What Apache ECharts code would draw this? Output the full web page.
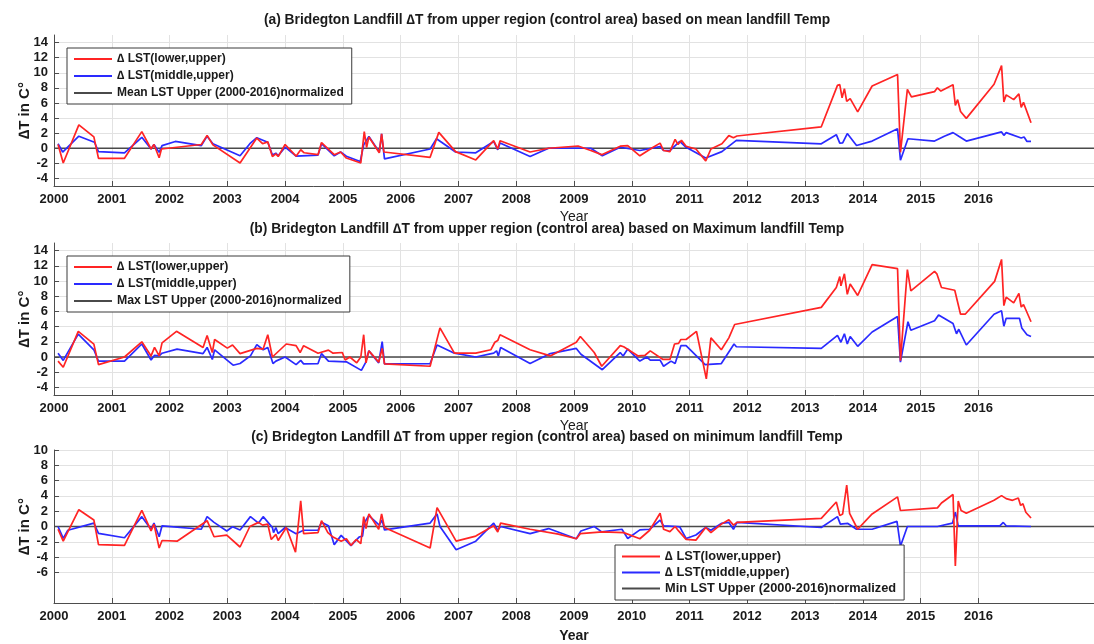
<!DOCTYPE html>
<html><head><meta charset="utf-8">
<script src="https://cdn.jsdelivr.net/npm/echarts@6/dist/echarts.min.js"></script>
<style>html,body{margin:0;padding:0;background:#fff}#c{width:1094px;height:644px}</style>
</head><body><div id="c"></div>
<script>
// ---- tick values ----
const yearTicks = [2000,2001,2002,2003,2004,2005,2006,2007,2008,2009,2010,2011,2012,2013,2014,2015,2016];
const yTicksAB = [-4,-2,0,2,4,6,8,10,12,14];
const yTicksC = [-6,-4,-2,0,2,4,6,8,10];

// ---- titles / labels ----
const titleA = '(a) Bridegton Landfill \u2206T from upper region (control area) based on mean landfill Temp';
const titleB = '(b) Bridegton Landfill \u2206T from upper region (control area) based on Maximum landfill Temp';
const titleC = '(c) Bridegton Landfill \u2206T from upper region (control area) based on minimum landfill Temp';
const nameLower = '\u2206 LST(lower,upper)';
const nameMiddle = '\u2206 LST(middle,upper)';
const nameMean = 'Mean LST Upper (2000-2016)normalized';
const nameMax = 'Max LST Upper (2000-2016)normalized';
const nameMin = 'Min LST Upper (2000-2016)normalized';

// ---- data: [year, deltaT] ----
const meanLower = [[2000.07,0.5],[2000.16,-1.96],[2000.43,3.1],[2000.69,1.5],[2000.77,-1.33],[2001.22,-1.33],[2001.52,2.2],[2001.68,-0.1],[2001.73,0.5],[2001.82,-1.25],[2001.86,-0.1],[2002.55,0.5],[2002.65,1.7],[2002.75,0.45],[2003.22,-1.95],[2003.51,1.35],[2003.61,0.6],[2003.70,0.85],[2003.78,-1.1],[2003.84,-0.75],[2003.88,-1.1],[2004.00,0.5],[2004.19,-1.05],[2004.27,-0.2],[2004.33,-0.6],[2004.57,-0.85],[2004.63,0.75],[2004.85,-0.85],[2004.96,-0.5],[2005.06,-1.3],[2005.31,-1.95],[2005.37,2.2],[2005.41,0.1],[2005.45,1.5],[2005.63,-0.6],[2005.67,1.9],[2005.71,-0.5],[2006.51,-1.2],[2006.66,2.1],[2006.95,-0.45],[2007.30,-1.55],[2007.61,1.0],[2007.68,-0.1],[2007.72,1.0],[2008.24,-0.5],[2008.56,0],[2009.07,0.3],[2009.29,-0.3],[2009.48,-0.85],[2009.80,0.27],[2009.93,0.36],[2010.14,-1.0],[2010.37,0.13],[2010.49,0.68],[2010.55,-0.3],[2010.66,-0.45],[2010.75,1.17],[2010.80,0.5],[2010.86,1.04],[2010.94,0.27],[2011.11,-0.1],[2011.28,-1.67],[2011.37,-0.1],[2011.56,0.59],[2011.68,1.67],[2011.76,1.4],[2011.82,1.62],[2013.28,2.84],[2013.56,8.33],[2013.60,8.42],[2013.64,6.67],[2013.68,7.9],[2013.72,6.2],[2013.78,6.58],[2013.91,4.82],[2014.16,8.24],[2014.60,9.77],[2014.65,-0.54],[2014.77,7.8],[2014.84,6.8],[2015.24,7.5],[2015.29,8.0],[2015.35,7.57],[2015.56,8.42],[2015.60,5.68],[2015.64,6.44],[2015.69,4.86],[2015.79,3.96],[2016.27,8.47],[2016.40,10.95],[2016.44,6.13],[2016.48,7.07],[2016.61,6.44],[2016.70,7.2],[2016.74,5.4],[2016.78,6.08],[2016.91,3.38]];
const meanMiddle = [[2000.07,0.6],[2000.15,-0.5],[2000.43,1.6],[2000.70,0.8],[2000.77,-0.45],[2001.22,-0.6],[2001.52,1.45],[2001.68,-0.1],[2001.73,0.5],[2001.82,-0.55],[2001.87,0.35],[2002.10,0.9],[2002.55,0.35],[2002.65,1.6],[2002.75,0.6],[2003.22,-1.0],[2003.39,0.6],[2003.51,1.4],[2003.70,0.8],[2003.78,-0.9],[2003.84,-0.65],[2003.88,-1.0],[2004.00,0.15],[2004.19,-1.05],[2004.57,-0.9],[2004.63,0.6],[2004.85,-1.0],[2004.96,-0.5],[2005.06,-1.05],[2005.30,-1.75],[2005.36,0.45],[2005.45,1.55],[2005.63,-0.5],[2005.67,1.9],[2005.72,-1.4],[2006.51,-0.1],[2006.62,1.25],[2006.95,-0.5],[2007.30,-0.6],[2007.61,0.9],[2007.68,-0.2],[2007.72,0.7],[2008.24,-1.1],[2008.56,0],[2009.29,0],[2009.49,-1.0],[2009.80,0.13],[2010.14,-0.3],[2010.49,0.22],[2010.55,-0.3],[2010.66,-0.3],[2010.83,0.9],[2010.94,0.13],[2011.28,-1.3],[2011.56,-0.45],[2011.81,1.04],[2013.28,0.59],[2013.54,1.8],[2013.60,0.68],[2013.65,0.72],[2013.73,1.94],[2013.89,0.36],[2014.16,0.95],[2014.60,2.57],[2014.65,-1.58],[2014.78,1.26],[2015.24,0.95],[2015.41,1.58],[2015.56,2.07],[2015.66,1.58],[2015.79,0.95],[2016.40,2.16],[2016.44,1.71],[2016.48,2.07],[2016.74,1.35],[2016.79,1.5],[2016.84,0.9],[2016.91,0.9]];
const maxLower = [[2000.07,-0.54],[2000.16,-1.35],[2000.42,3.38],[2000.69,1.7],[2000.77,-1.0],[2001.22,0],[2001.52,2.0],[2001.68,0.14],[2001.74,1.26],[2001.82,0.14],[2001.87,1.85],[2002.12,3.38],[2002.58,1.26],[2002.65,2.84],[2002.74,0.59],[2002.78,2.3],[2003.00,1.17],[2003.09,1.58],[2003.22,0.45],[2003.51,1.13],[2003.62,1.04],[2003.70,2.93],[2003.78,0],[2004.02,1.71],[2004.19,1.49],[2004.26,0.59],[2004.32,1.49],[2004.57,0.5],[2004.75,0.9],[2004.83,0.5],[2004.99,0.59],[2005.04,-0.4],[2005.12,0],[2005.24,-0.77],[2005.31,0],[2005.36,2.93],[2005.40,-0.77],[2005.45,0.81],[2005.62,-0.68],[2005.68,1.13],[2005.72,-0.9],[2006.51,-1.22],[2006.68,3.83],[2006.93,0.5],[2007.30,0.5],[2007.56,0.95],[2007.63,1.94],[2007.68,2.16],[2007.72,2.93],[2008.24,0.95],[2008.59,0.14],[2009.04,1.94],[2009.11,2.7],[2009.35,0.59],[2009.48,-1.22],[2009.80,1.49],[2009.86,1.35],[2010.11,0.14],[2010.23,0.23],[2010.32,0.81],[2010.54,-0.32],[2010.66,-0.32],[2010.74,1.71],[2010.81,1.8],[2010.85,2.3],[2010.94,2.3],[2011.12,3.38],[2011.29,-2.88],[2011.37,2.52],[2011.55,0.95],[2011.68,2.52],[2011.78,4.28],[2013.28,6.53],[2013.54,9.14],[2013.60,10.59],[2013.62,9.37],[2013.68,10.95],[2013.73,8.24],[2013.78,9.6],[2013.91,8.1],[2014.16,12.16],[2014.60,11.62],[2014.65,-0.5],[2014.77,11.5],[2014.83,8.7],[2015.24,11.26],[2015.28,10.95],[2015.36,9.14],[2015.59,8.78],[2015.69,5.63],[2015.77,5.63],[2016.28,9.95],[2016.40,12.84],[2016.44,6.76],[2016.48,7.88],[2016.61,7.12],[2016.70,8.38],[2016.74,6.58],[2016.78,6.89],[2016.82,6.22],[2016.91,4.64]];
const maxMiddle = [[2000.07,0.5],[2000.16,-0.45],[2000.42,3.0],[2000.69,0.95],[2000.77,-0.54],[2001.22,-0.54],[2001.52,1.71],[2001.68,-0.4],[2001.74,0.22],[2001.82,0.14],[2001.87,0.5],[2002.13,1.04],[2002.58,0.45],[2002.65,1.26],[2002.74,-0.32],[2002.78,0.95],[2003.10,-1.08],[2003.22,-0.86],[2003.40,0.14],[2003.51,1.62],[2003.62,0.95],[2003.70,1.26],[2003.79,-0.86],[2003.84,-0.54],[2004.00,0],[2004.19,-1.0],[2004.27,-0.45],[2004.32,-0.9],[2004.57,-0.86],[2004.63,0.45],[2004.75,-0.54],[2005.06,-0.63],[2005.32,-1.76],[2005.39,-0.77],[2005.45,0.81],[2005.62,-0.77],[2005.68,2.03],[2005.72,-0.9],[2006.51,-0.86],[2006.63,1.58],[2006.93,0.5],[2007.30,0],[2007.61,0.5],[2007.66,0.81],[2007.69,0.14],[2007.73,1.26],[2008.24,-0.86],[2008.59,0.45],[2009.04,1.13],[2009.12,0.36],[2009.49,-1.67],[2009.80,0.59],[2009.85,0.14],[2009.93,1.04],[2010.14,-0.54],[2010.26,0],[2010.32,-0.4],[2010.49,-0.4],[2010.55,-1.22],[2010.68,-0.54],[2010.75,-0.86],[2010.85,1.49],[2010.94,1.49],[2011.27,-1.0],[2011.55,-0.86],[2011.77,1.71],[2011.81,1.35],[2013.28,1.13],[2013.56,2.84],[2013.62,1.94],[2013.68,3.06],[2013.73,1.71],[2013.78,2.7],[2013.91,1.4],[2014.16,3.29],[2014.60,5.32],[2014.65,-0.68],[2014.78,4.64],[2014.83,3.51],[2015.24,4.77],[2015.31,5.54],[2015.56,4.41],[2015.62,3.06],[2015.66,3.65],[2015.79,1.58],[2016.27,5.63],[2016.40,6.08],[2016.44,4.05],[2016.48,5.09],[2016.71,5.09],[2016.75,3.83],[2016.84,2.93],[2016.91,2.7]];
const minLower = [[2000.07,-0.36],[2000.16,-1.92],[2000.43,2.19],[2000.69,0.85],[2000.77,-2.37],[2001.22,-2.46],[2001.52,2.1],[2001.68,-0.58],[2001.73,0.31],[2001.82,-2.81],[2001.87,-1.83],[2002.13,-1.92],[2002.65,0.76],[2002.77,-1.34],[2002.99,-1.12],[2003.22,-2.68],[2003.39,0],[2003.54,0.54],[2003.61,0.18],[2003.70,0.31],[2003.76,-1.7],[2003.79,-1.83],[2003.84,-1.03],[2003.88,-1.83],[2004.02,-0.13],[2004.18,-3.35],[2004.27,3.35],[2004.32,-0.94],[2004.57,-0.8],[2004.63,0.76],[2004.74,-0.8],[2004.83,-1.38],[2004.97,-1.92],[2005.06,-1.6],[2005.14,-2.46],[2005.23,-1.7],[2005.31,-2.23],[2005.36,1.29],[2005.40,-0.27],[2005.45,1.65],[2005.62,-0.36],[2005.67,1.65],[2005.72,-0.13],[2006.51,-2.81],[2006.63,2.46],[2006.96,-1.92],[2007.30,-1.25],[2007.61,0.09],[2007.68,-0.71],[2007.73,0.45],[2008.24,-0.36],[2008.73,-1.0],[2009.04,-1.6],[2009.11,-0.93],[2009.49,-0.71],[2009.86,-0.8],[2010.14,-1.6],[2010.31,-0.49],[2010.49,1.73],[2010.55,-0.36],[2010.66,-0.67],[2010.75,0],[2010.81,-0.58],[2010.94,-1.69],[2011.11,-1.78],[2011.28,-0.13],[2011.37,-0.8],[2011.55,0.31],[2011.68,0.89],[2011.76,0.18],[2011.82,0.53],[2013.28,1.07],[2013.54,3.2],[2013.60,1.42],[2013.65,1.64],[2013.72,5.42],[2013.77,1.73],[2013.91,-0.36],[2014.16,1.64],[2014.60,3.87],[2014.65,2.09],[2015.29,2.44],[2015.36,3.07],[2015.56,4.18],[2015.60,-5.16],[2015.65,3.33],[2015.70,2.09],[2015.79,1.73],[2016.27,3.42],[2016.40,4.04],[2016.48,3.64],[2016.59,3.42],[2016.69,3.73],[2016.73,2.76],[2016.77,2.98],[2016.82,1.87],[2016.91,1.11]];
const minMiddle = [[2000.07,0],[2000.16,-1.56],[2000.24,-0.49],[2000.69,0.45],[2000.77,-0.89],[2001.22,-1.47],[2001.52,1.29],[2001.68,-0.36],[2001.73,0.45],[2001.82,-1.34],[2001.87,0.09],[2002.55,-0.36],[2002.65,1.29],[2002.77,0.54],[2002.99,-0.58],[2003.09,-0.04],[2003.22,-0.45],[2003.40,1.29],[2003.54,0.45],[2003.62,1.29],[2003.78,-0.13],[2003.80,-0.8],[2003.84,-0.13],[2003.88,-0.94],[2004.00,-0.13],[2004.19,-0.94],[2004.32,-0.49],[2004.57,-0.49],[2004.63,0.54],[2004.75,0.09],[2004.85,-2.37],[2004.97,-1.16],[2005.14,-2.5],[2005.28,-1.38],[2005.34,-1.25],[2005.37,0.45],[2005.45,1.43],[2005.63,0.18],[2005.68,0.85],[2005.72,-0.45],[2006.51,0.45],[2006.63,1.65],[2006.68,0],[2006.96,-3.04],[2007.30,-1.92],[2007.61,0.45],[2007.68,-0.49],[2007.73,0],[2008.24,-0.94],[2008.56,-0.27],[2009.04,-1.6],[2009.12,-0.58],[2009.35,0],[2009.48,-0.71],[2009.83,-0.36],[2009.93,-1.56],[2010.14,-0.44],[2010.31,-0.36],[2010.49,0.84],[2010.55,0.09],[2010.77,0],[2010.83,-0.04],[2010.94,-1.56],[2011.11,-1.11],[2011.28,-0.13],[2011.37,-0.49],[2011.55,0.4],[2011.68,0.53],[2011.76,-0.36],[2011.82,0.53],[2013.28,-0.13],[2013.56,1.29],[2013.61,0.31],[2013.74,0.4],[2013.89,-0.36],[2014.16,-0.36],[2014.59,0.67],[2014.65,-2.58],[2014.77,0],[2015.29,0],[2015.55,0.44],[2015.60,1.87],[2015.65,0.09],[2016.37,0.09],[2016.43,0.53],[2016.48,0.09],[2016.91,0]];
const baseline = [[2000,0],[2018,0]];

const FONT = '"Liberation Sans", Arial, sans-serif';
const RED = '#ff2424', BLUE = '#2a2aff', BASE = '#4a4a4a';
const AXIS = '#4d4d4d', GRIDC = '#e2e2e2';

const grids = [
  {left: 54, right: 0, top: 35, height: 151},
  {left: 54, right: 0, top: 243, height: 152},
  {left: 54, right: 0, top: 450, height: 154}
];

function xAx(i, boldName, gap) {
  return {
    type: 'value', gridIndex: i, min: 2000, max: 2018,
    axisLine: {show: true, onZero: false, lineStyle: {color: AXIS, width: 1}},
    axisTick: {show: true, inside: true, length: 5, customValues: yearTicks, lineStyle: {color: AXIS}},
    axisLabel: {customValues: yearTicks, formatter: v => String(v), fontFamily: FONT, fontWeight: 'bold', fontSize: 13, color: '#1a1a1a', margin: 7},
    splitLine: {show: false},
    name: 'Year', nameLocation: 'middle', nameGap: gap, nameMoveOverlap: false,
    nameTextStyle: {fontFamily: FONT, fontSize: 14, fontWeight: boldName ? 'bold' : 'normal', color: '#1a1a1a'}
  };
}
function yAx(i, mn, mx, ticks) {
  return {
    type: 'value', gridIndex: i, min: mn, max: mx,
    axisLine: {show: true, onZero: false, lineStyle: {color: AXIS, width: 1}},
    axisTick: {show: true, inside: true, length: 5, customValues: ticks, lineStyle: {color: AXIS}},
    axisLabel: {customValues: ticks, formatter: v => String(v), fontFamily: FONT, fontWeight: 'bold', fontSize: 13, color: '#1a1a1a', margin: 6},
    splitLine: {show: false},
    name: '\u2206T in C\u00b0', nameLocation: 'middle', nameGap: 22, nameRotate: 90, nameMoveOverlap: false,
    nameTextStyle: {fontFamily: FONT, fontSize: 15, fontWeight: 'bold', color: '#1a1a1a'}
  };
}
function gridMarks(yTicks) {
  return {
    silent: true, symbol: ['none', 'none'], z: 0, animation: false,
    label: {show: false}, emphasis: {disabled: true},
    lineStyle: {type: 'solid', color: GRIDC, width: 1},
    data: yearTicks.map(v => ({xAxis: v})).concat(yTicks.map(v => ({yAxis: v})))
  };
}
function ln(name, data, i, color, w, z, marks) {
  const s = {type: 'line', name: name, data: data, xAxisIndex: i, yAxisIndex: i,
    symbol: 'none', showSymbol: false, z: z, clip: true,
    lineStyle: {color: color, width: w}, itemStyle: {color: color},
    emphasis: {disabled: true}};
  if (marks) s.markLine = marks;
  return s;
}
function lg(left, top, names, fs, gap) {
  return {
    orient: 'vertical', left: left, top: top, data: names,
    backgroundColor: '#fff', borderColor: '#3a3a3a', borderWidth: 1,
    padding: [5, 8, 5, 6], itemWidth: 38, itemHeight: 12, itemGap: gap,
    selectedMode: false, itemStyle: {opacity: 0},
    textStyle: {fontFamily: FONT, fontSize: fs, fontWeight: 'bold', color: '#1a1a1a'}
  };
}
function tt(text, top) {
  return {text: text, left: 'center', top: top, padding: 0,
    textStyle: {fontFamily: FONT, fontSize: 13.8, fontWeight: 'bold', color: '#1a1a1a'}};
}

const chart = echarts.init(document.getElementById('c'), null, {renderer: 'canvas'});
chart.setOption({
  animation: false,
  backgroundColor: '#fff',
  title: [tt(titleA, 13), tt(titleB, 222), tt(titleC, 430)],
  legend: [
    lg(67, 48, [nameLower, nameMiddle, nameMean], 12, 5),
    lg(67, 256, [nameLower, nameMiddle, nameMax], 12.3, 5),
    lg(615, 545, [nameLower, nameMiddle, nameMin], 12.8, 3)
  ],
  grid: grids,
  xAxis: [xAx(0, false, 24), xAx(1, false, 24), xAx(2, true, 26)],
  yAxis: [yAx(0, -5, 15, yTicksAB), yAx(1, -5, 15, yTicksAB), yAx(2, -10, 10, yTicksC)],
  series: [
    ln(nameMean, baseline, 0, BASE, 1.5, 1, gridMarks(yTicksAB)),
    ln(nameLower, meanLower, 0, RED, 1.7, 3),
    ln(nameMiddle, meanMiddle, 0, BLUE, 1.7, 2),
    ln(nameMax, baseline, 1, BASE, 1.5, 1, gridMarks(yTicksAB)),
    ln(nameLower, maxLower, 1, RED, 1.7, 3),
    ln(nameMiddle, maxMiddle, 1, BLUE, 1.7, 2),
    ln(nameMin, baseline, 2, BASE, 1.5, 1, gridMarks(yTicksC)),
    ln(nameLower, minLower, 2, RED, 1.7, 3),
    ln(nameMiddle, minMiddle, 2, BLUE, 1.7, 2)
  ]
});
</script>
</body></html>
